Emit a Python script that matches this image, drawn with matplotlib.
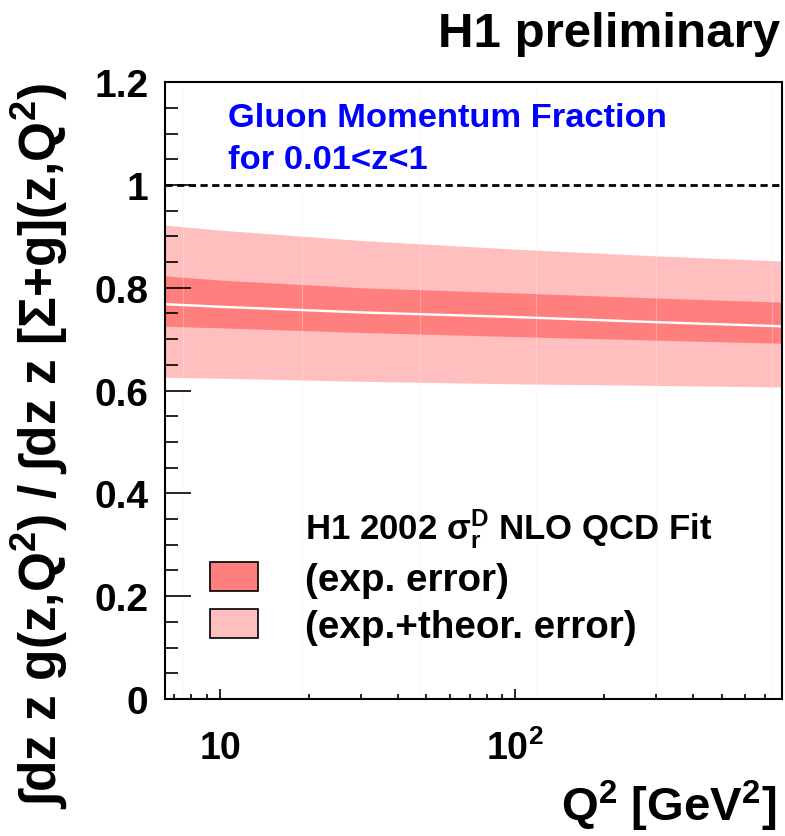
import matplotlib
matplotlib.use("Agg")
import matplotlib.pyplot as plt
from matplotlib.patches import Patch
from matplotlib.ticker import MultipleLocator, FixedLocator, NullFormatter, FixedFormatter, FuncFormatter

plt.rcParams['font.family'] = ['Liberation Sans', 'DejaVu Sans']
plt.rcParams['font.weight'] = 'bold'
plt.rcParams['mathtext.fontset'] = 'custom'
plt.rcParams['mathtext.rm'] = 'Liberation Sans:bold'
plt.rcParams['mathtext.bf'] = 'Liberation Sans:bold'
plt.rcParams['mathtext.it'] = 'Liberation Sans:bold'
plt.rcParams['mathtext.default'] = 'bf'

# fit result vs Q2
q2 = [6.5, 10, 30, 100, 300, 800]
central = [0.768, 0.763, 0.752, 0.743, 0.733, 0.725]
exp_up = [0.823, 0.815, 0.800, 0.790, 0.780, 0.772]
exp_dn = [0.725, 0.722, 0.713, 0.705, 0.698, 0.692]
tot_up = [0.922, 0.912, 0.892, 0.875, 0.862, 0.852]
tot_dn = [0.626, 0.624, 0.618, 0.613, 0.610, 0.607]

# faint segment boundaries visible in the original bands
seams = [7.5, 19, 47.5, 118, 300, 740]

dark = '#ff7f7f'
light = '#ffbfbf'

fig = plt.figure(figsize=(7.85, 8.37), dpi=100)
ax = fig.add_axes([0.210, 0.1637, 0.786, 0.737])

ax.fill_between(q2, tot_dn, tot_up, color=light, lw=0)
ax.fill_between(q2, exp_dn, exp_up, color=dark, lw=0)
ax.plot(q2, central, color='white', lw=1.7)
for s in seams:
    ax.axvline(s, color='#ffeef2', lw=0.8, alpha=0.3, zorder=1.5)
ax.axhline(1.0, color='black', lw=2, ls=(0, (2.6, 1.6)))

ax.set_xscale('log')
ax.set_xlim(6.5, 800)
ax.set_ylim(0, 1.2)

ax.yaxis.set_major_locator(MultipleLocator(0.2))
ax.yaxis.set_minor_locator(MultipleLocator(0.05))
ax.yaxis.set_major_formatter(FuncFormatter(lambda v, p: '%g' % round(v, 2)))
ax.xaxis.set_major_locator(FixedLocator([10, 100]))
ax.xaxis.set_major_formatter(FixedFormatter(['10', r'$10^{2}$']))
ax.xaxis.set_minor_formatter(NullFormatter())

ax.tick_params(axis='y', which='major', direction='in', length=19, width=1.2,
               labelsize=28, pad=12, right=False)
ax.tick_params(axis='y', which='minor', direction='in', length=9.5, width=1.2, right=False)
ax.tick_params(axis='x', which='major', direction='in', length=7, width=1.2,
               labelsize=27, pad=22, top=False)
ax.tick_params(axis='x', which='minor', direction='in', length=3.5, width=1.2, top=False)
for sp in ax.spines.values():
    sp.set_linewidth(1.5)

ax.text(0.102, 0.943, 'Gluon Momentum Fraction', color='#0000ff', fontsize=24.8,
        fontweight='bold', transform=ax.transAxes, va='center', ha='left')
ax.text(0.102, 0.875, 'for 0.01<z<1', color='#0000ff', fontsize=24.8,
        fontweight='bold', transform=ax.transAxes, va='center', ha='left')

handles = [Patch(facecolor='none', edgecolor='none'),
           Patch(facecolor=dark, edgecolor='black', lw=1.2),
           Patch(facecolor=light, edgecolor='black', lw=1.2)]
labels = [r'H1 2002 σ$_{r}^{D}$ NLO QCD Fit', '(exp. error)', '(exp.+theor. error)']
leg = ax.legend(handles, labels, loc='center left', bbox_to_anchor=(0.073, 0.2),
                frameon=False, fontsize=27.8, handlelength=1.25, handleheight=0.78,
                handletextpad=1.22, labelspacing=0.3, borderpad=0, borderaxespad=0)
leg.get_texts()[0].set_fontsize(25)

fig.text(780 / 785, 1 - 12 / 837, 'H1 preliminary', fontsize=35.5, fontweight='bold',
         ha='right', va='top')
fig.text(776 / 785, 3 / 837, r'Q$^{2}$ [GeV$^{2}$]', fontsize=34, fontweight='bold',
         ha='right', va='bottom')
fig.text(10 / 785, 1 - 83 / 837, r'∫dz z g(z,Q$^{2}$) / ∫dz z [Σ+g](z,Q$^{2}$)',
         fontsize=37, fontweight='bold', rotation=90, ha='left', va='top')

fig.savefig('out.png', dpi=100)
